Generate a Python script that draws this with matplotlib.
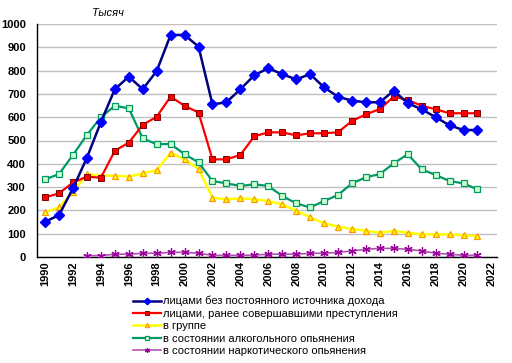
import matplotlib.pyplot as plt
import numpy as np

plt.rcParams['font.family'] = ['Liberation Sans', 'DejaVu Sans']

years = np.arange(1990, 2022)
years_drug = np.arange(1993, 2022)

# лицами без постоянного источника дохода
no_income = [151, 180, 295, 426, 579, 720, 774, 720, 798, 953, 953, 903,
             655, 664, 720, 780, 810, 785, 762, 785, 728, 688, 671, 664,
             664, 714, 660, 634, 600, 565, 545, 545]
# лицами, ранее совершавшими преступления
repeat = [256, 273, 320, 345, 340, 456, 491, 567, 602, 688, 649, 620,
          419, 419, 438, 518, 535, 535, 522, 531, 531, 535, 584, 612,
          635, 688, 674, 649, 634, 617, 617, 617]
# в группе
group = [192, 213, 280, 355, 349, 349, 345, 359, 373, 448, 419, 378,
         255, 247, 252, 248, 240, 226, 199, 170, 145, 130, 120, 113,
         104, 112, 104, 97, 97, 97, 93, 90]
# в состоянии алкогольного опьянения
alcohol = [333, 356, 438, 524, 600, 649, 638, 509, 484, 485, 441, 406,
           326, 316, 305, 312, 305, 262, 230, 213, 240, 266, 316, 342,
           356, 402, 441, 376, 352, 326, 316, 290]
# в состоянии наркотического опьянения
drugs = [6, 6, 12, 12, 16, 16, 20, 20, 16, 7, 7, 7, 8, 12, 12, 12, 16,
         16, 20, 26, 33, 37, 37, 33, 26, 16, 12, 7, 7]

labels = ['лицами без постоянного источника дохода',
          'лицами, ранее совершавшими преступления',
          'в группе',
          'в состоянии алкогольного опьянения',
          'в состоянии наркотического опьянения']

fig = plt.figure(figsize=(5.12, 3.63), dpi=100)
ax = fig.add_axes([37/512, 1 - 257/363, 460/512, 233/363])

ax.plot(years, no_income, color='#000080', lw=1.8, marker='D', ms=5.5,
        mfc='#0000ff', mec='#0000ff', label=labels[0], zorder=5)
ax.plot(years, repeat, color='#ff0000', lw=1.6, marker='s', ms=5,
        mfc='#ff0000', mec='#800000', mew=0.7, label=labels[1], zorder=4)
ax.plot(years, group, color='#ffff00', lw=1.8, marker='^', ms=5,
        mfc='#ffff00', mec='#ff9900', mew=0.9, label=labels[2], zorder=3)
ax.plot(years, alcohol, color='#009966', lw=1.6, marker='s', ms=5,
        mfc='#ccffcc', mec='#009966', mew=0.9, label=labels[3], zorder=3)
ax.plot(years_drug, drugs, color='#b050b0', lw=1.2, marker=(6, 2, 0), ms=6,
        mfc='#990099', mec='#990099', mew=0.9, label=labels[4], zorder=3)

ax.set_xlim(1989.42, 2022.4)
ax.set_ylim(0, 1000)
ax.set_xticks(np.arange(1990, 2023, 2))
ax.set_yticks(np.arange(0, 1001, 100))
ax.tick_params(axis='x', labelrotation=90, length=0, pad=3)
ax.tick_params(axis='y', length=0, pad=8)
for t in ax.get_xticklabels() + ax.get_yticklabels():
    t.set_fontsize(8)
    t.set_fontweight('bold')
ax.grid(axis='y', color='#c0c0c0', lw=1)
ax.set_axisbelow(True)
for s in ['top', 'right']:
    ax.spines[s].set_visible(False)
ax.spines['left'].set_linewidth(1)
ax.spines['bottom'].set_linewidth(1)

fig.text(92/512, 1 - 13/363, 'Тысяч', fontsize=8, style='italic', va='center')

fig.legend(loc='upper left', bbox_to_anchor=(133/512, 1 - 296/363),
           frameon=False, fontsize=8, handlelength=2.5, handletextpad=0.2,
           labelspacing=0.22, borderpad=0, borderaxespad=0, markerscale=0.6)

fig.savefig('out.png', dpi=100)
